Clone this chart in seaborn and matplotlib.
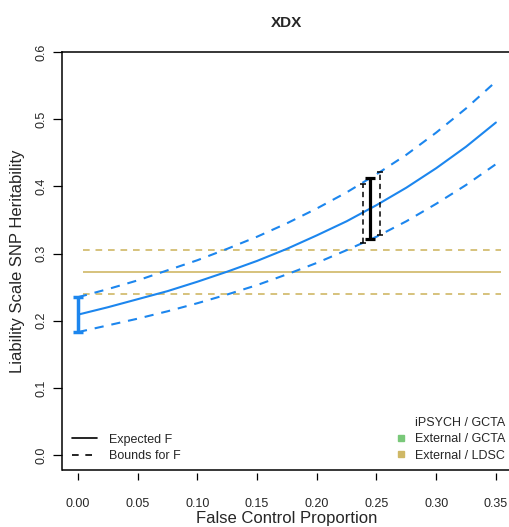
import numpy as np
import pandas as pd
import matplotlib
matplotlib.use("Agg")
import matplotlib.pyplot as plt
from matplotlib.lines import Line2D
import seaborn as sns

# False control proportion grid and heritability curves
false_ctrl = [0.0, 0.025, 0.05, 0.075, 0.1, 0.125, 0.15, 0.175, 0.2,
              0.225, 0.25, 0.275, 0.3, 0.325, 0.35]
h2_expected = [0.209, 0.220, 0.232, 0.244, 0.258, 0.273, 0.289, 0.307, 0.327,
               0.348, 0.372, 0.398, 0.427, 0.459, 0.495]
h2_lower = [0.183, 0.193, 0.203, 0.214, 0.226, 0.239, 0.253, 0.269, 0.286,
            0.305, 0.325, 0.348, 0.374, 0.402, 0.433]
h2_upper = [0.235, 0.247, 0.260, 0.275, 0.290, 0.307, 0.325, 0.345, 0.367,
            0.391, 0.418, 0.447, 0.480, 0.516, 0.556]

# Estimated false control proportion and its interval
f_est = 0.2446
f_est_lo, f_est_hi = 0.321, 0.412
f_ci = [0.2384, 0.2529]
f_ci_lo = [0.316, 0.328]
f_ci_hi = [0.404, 0.421]

# External LDSC estimate with its interval
ldsc_h2 = 0.272
ldsc_lo = 0.240
ldsc_hi = 0.305
ldsc_span = (0.004, 0.354)

x_ticks = [0.0, 0.05, 0.10, 0.15, 0.20, 0.25, 0.30, 0.35]
y_ticks = [0.0, 0.1, 0.2, 0.3, 0.4, 0.5, 0.6]

BLUE = "#1C86EE"
GOLD = "#CFB866"
GREEN = "#79C879"

sns.set_style("white")
plt.rcParams["font.family"] = ["Liberation Sans", "DejaVu Sans"]

fig = plt.figure(figsize=(5.1, 5.27), dpi=100)
ax = fig.add_axes([62 / 510, 57 / 527, 450 / 510, 418 / 527])

curves = pd.DataFrame({"F": false_ctrl, "exp": h2_expected,
                       "lo": h2_lower, "hi": h2_upper})

# LDSC reference lines
ax.hlines(ldsc_h2, *ldsc_span, color=GOLD, lw=1.2)
for yv in (ldsc_lo, ldsc_hi):
    ax.hlines(yv, *ldsc_span, color=GOLD, lw=1.2, linestyles=(0, (4, 3.5)))

# Expected heritability and bounds
sns.lineplot(data=curves, x="F", y="exp", ax=ax, color=BLUE, lw=1.5)
for col in ("lo", "hi"):
    sns.lineplot(data=curves, x="F", y=col, ax=ax, color=BLUE, lw=1.5)
    ax.lines[-1].set_dashes((4.4, 3.8))

# Interval at F = 0
ax.errorbar([false_ctrl[0]], [h2_expected[0]],
            yerr=[[h2_expected[0] - h2_lower[0]], [h2_upper[0] - h2_expected[0]]],
            fmt="none", ecolor=BLUE, elinewidth=2.5, capsize=3.6, capthick=2.5)

# Interval at the estimated F
mid = (f_est_lo + f_est_hi) / 2
ax.errorbar([f_est], [mid], yerr=[[mid - f_est_lo], [f_est_hi - mid]],
            fmt="none", ecolor="black", elinewidth=2.3, capsize=3.6, capthick=2.3,
            zorder=5)

# Intervals at the bounds of F
for xv, lo, hi in zip(f_ci, f_ci_lo, f_ci_hi):
    m = (lo + hi) / 2
    eb = ax.errorbar([xv], [m], yerr=[[m - lo], [hi - m]], fmt="none",
                     ecolor="black", elinewidth=1.1, capsize=2.2, capthick=1.1,
                     zorder=5)
    eb[2][0].set_linestyle((0, (3.5, 2.5)))

ax.set_xlim(-0.0134, 0.3635)
ax.set_ylim(-0.0223, 0.6)
ax.set_xticks(x_ticks)
ax.set_xticklabels([f"{v:.2f}" for v in x_ticks])
ax.set_yticks(y_ticks)
ax.set_yticklabels([f"{v:.1f}" for v in y_ticks])
ax.set_xlabel("")
ax.set_ylabel("")

for side in ("left", "top", "right"):
    ax.spines[side].set_color("black")
    ax.spines[side].set_linewidth(1.1)
ax.spines["bottom"].set_position(("outward", 2.4))
ax.spines["bottom"].set_visible(False)
ax.plot([0, 1], [0, 0], transform=ax.transAxes, color="black", lw=1.1,
        clip_on=False, solid_capstyle="butt")

ax.tick_params(axis="x", direction="out", length=5, width=0.9, color="black",
               labelsize=9, pad=12.5, bottom=True)
ax.tick_params(axis="y", direction="out", length=6.5, width=0.9, color="black",
               labelsize=9, pad=4, left=True, labelrotation=90)
for lab in ax.get_yticklabels():
    lab.set_verticalalignment("center")

# Line style legend
style_handles = [Line2D([], [], color="black", lw=1.2, ls="-"),
                 Line2D([], [], color="black", lw=1.2, dashes=(4, 4))]
leg1 = ax.legend(style_handles, ["Expected F", "Bounds for F"],
                 loc="center left", bbox_to_anchor=(0.022, 0.0526),
                 frameon=False, fontsize=9, handlelength=2.0,
                 handletextpad=0.95, labelspacing=0.35, borderpad=0,
                 borderaxespad=0)
ax.add_artist(leg1)

# Source legend
src_handles = [Line2D([], [], ls="none", marker="s", ms=4.5, color="none"),
               Line2D([], [], ls="none", marker="s", ms=4.5, color=GREEN),
               Line2D([], [], ls="none", marker="s", ms=4.5, color=GOLD)]
ax.legend(src_handles, ["iPSYCH / GCTA", "External / GCTA", "External / LDSC"],
          loc="center left", bbox_to_anchor=(0.7394, 0.073), frameon=False,
          fontsize=9, handlelength=1.0, handletextpad=0.62, labelspacing=0.35,
          borderpad=0, borderaxespad=0)

fig.text(286.7 / 510, 1 - 27.3 / 527, "XDX", ha="center", va="baseline",
         fontsize=11, fontweight="bold")
fig.text(286.7 / 510, 1 - 523 / 527, "False Control Proportion", ha="center",
         va="baseline", fontsize=12)
fig.text(18 / 510, 1 - 261 / 527, "Liability Scale SNP Heritability",
         ha="center", va="center", rotation=90, fontsize=12)

fig.savefig("out.png", dpi=100)
